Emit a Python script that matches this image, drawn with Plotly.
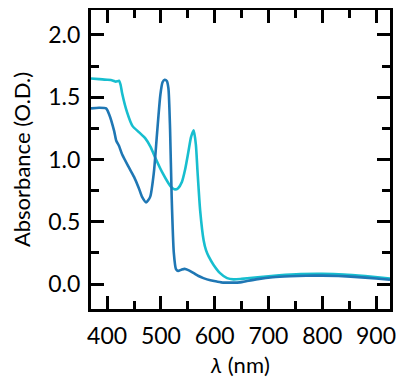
import plotly.graph_objects as go

# Wavelength (nm) and absorbance (O.D.)
wl_blue = [370, 385, 398, 404, 413, 417, 422, 428, 440, 450, 459, 465, 472.5, 480, 487, 493,
           499, 503, 507, 511, 514, 517, 520, 524, 528, 532, 538, 544, 552, 561, 570, 579,
           592, 604, 616, 630, 647, 660, 680, 708, 740, 770, 800, 830, 860, 900, 926]
abs_blue = [1.41, 1.415, 1.41, 1.36, 1.23, 1.15, 1.11, 1.04, 0.94, 0.86, 0.77, 0.70, 0.656, 0.70, 0.90, 1.22,
            1.52, 1.62, 1.64, 1.63, 1.57, 1.25, 0.70, 0.25, 0.12, 0.106, 0.115, 0.122, 0.11, 0.088, 0.065, 0.048,
            0.03, 0.02, 0.012, 0.012, 0.014, 0.025, 0.04, 0.055, 0.063, 0.067, 0.068, 0.065, 0.058, 0.045, 0.035]

wl_cyan = [370, 385, 400, 410, 416, 419, 422, 425, 428, 437, 447, 459, 471, 481, 490, 502,
           514, 520, 526, 532, 539, 545, 551, 556, 561, 565, 568, 573, 579.5, 584, 589, 598,
           610, 623, 635, 650, 680, 720, 760, 800, 840, 880, 926]
abs_cyan = [1.65, 1.645, 1.64, 1.635, 1.625, 1.628, 1.632, 1.60, 1.53, 1.38, 1.27, 1.22, 1.17, 1.10, 1.01, 0.90,
            0.81, 0.775, 0.76, 0.77, 0.82, 0.92, 1.06, 1.18, 1.234, 1.12, 0.91, 0.59, 0.35, 0.27, 0.22, 0.154,
            0.088, 0.048, 0.038, 0.042, 0.055, 0.07, 0.08, 0.082, 0.077, 0.064, 0.045]

x_ticks = [400, 500, 600, 700, 800, 900]
y_ticks = [0.0, 0.5, 1.0, 1.5, 2.0]
y_tick_labels = ["0.0", "0.5", "1.0", "1.5", "2.0"]

FONT = "Lato, 'Open Sans', sans-serif"

fig = go.Figure()
fig.add_trace(go.Scatter(x=wl_cyan, y=abs_cyan, mode="lines",
                         line=dict(color="#17becf", width=2.6, shape="spline", smoothing=0.6),
                         showlegend=False))
fig.add_trace(go.Scatter(x=wl_blue, y=abs_blue, mode="lines",
                         line=dict(color="#1f77b4", width=2.6, shape="spline", smoothing=0.6),
                         showlegend=False))

axis_common = dict(
    showgrid=False, zeroline=False,
    showline=True, linecolor="black", linewidth=3,
    mirror="allticks", ticks="inside", ticklen=13, tickwidth=2.5, tickcolor="black",
    tickfont=dict(family=FONT, size=23, color="black"),
)

fig.update_xaxes(range=[370, 926], tickvals=x_ticks, ticklabelstandoff=4,
                 minor=dict(dtick=50, tick0=0, ticks="inside", ticklen=8, tickwidth=2.5, tickcolor="black"),
                 title=dict(text="<i>λ</i> (nm)", font=dict(family=FONT, size=22, color="black"), standoff=11),
                 **axis_common)
fig.update_yaxes(range=[-0.2, 2.2], tickvals=y_ticks, ticktext=y_tick_labels, ticklabelstandoff=3,
                 minor=dict(dtick=0.25, tick0=0, ticks="inside", ticklen=8, tickwidth=2.5, tickcolor="black"),
                 title=dict(text="Absorbance (O.D.)", font=dict(family=FONT, size=22, color="black"), standoff=24),
                 **axis_common)

# the page body has an 8px margin, so the figure is sized to the visible area
fig.update_layout(
    width=396, height=383,
    margin=dict(l=82.5, r=13.5, t=2.3, b=81.8, autoexpand=False),
    paper_bgcolor="white", plot_bgcolor="white",
)

fig.write_html("out.html")
